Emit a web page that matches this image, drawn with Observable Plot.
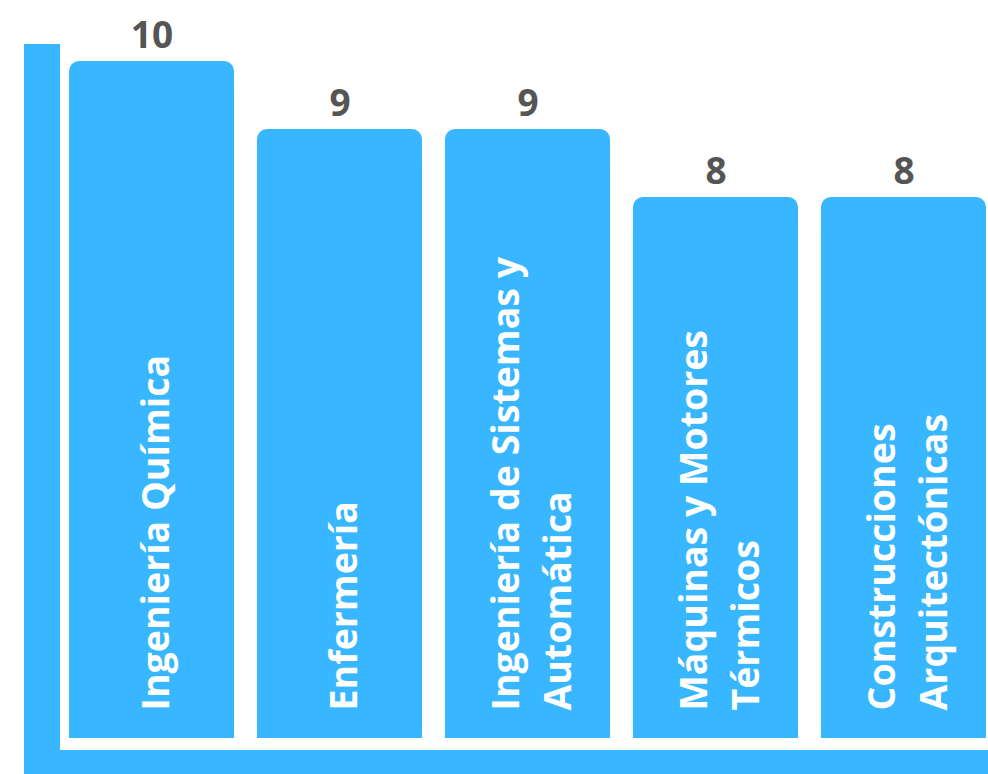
<!DOCTYPE html>
<html>
<head>
<meta charset="utf-8">
<script src="https://cdn.jsdelivr.net/npm/d3@7"></script>
<script src="https://cdn.jsdelivr.net/npm/@observablehq/plot@0.6"></script>
<style>
  html, body { margin: 0; padding: 0; background: #fff; }
  #chart svg { display: block; }
</style>
</head>
<body>
<div id="chart"></div>
<script>
const categories = [
  "Ingeniería Química",
  "Enfermería",
  "Ingeniería de Sistemas y Automática",
  "Máquinas y Motores Térmicos",
  "Construcciones Arquitectónicas"
];
const values = [10, 9, 9, 8, 8];
const labels = [
  "Ingeniería Química",
  "Enfermería",
  "Ingeniería de Sistemas y\nAutomática",
  "Máquinas y Motores\nTérmicos",
  "Construcciones\nArquitectónicas"
];

const data = categories.map((c, i) => ({category: c, value: values[i], label: labels[i]}));
const BLUE = "#38b6ff";

const frameMark = (index, scales, vals, dimensions) => {
  const {width, height, marginTop, marginLeft} = dimensions;
  const y0 = scales.y(0);
  const g = d3.create("svg:g");
  g.append("rect")
    .attr("x", marginLeft - 45).attr("y", marginTop)
    .attr("width", 36).attr("height", height - marginTop)
    .attr("fill", BLUE);
  g.append("rect")
    .attr("x", marginLeft - 45).attr("y", y0 + 9)
    .attr("width", width - (marginLeft - 45)).attr("height", height - y0 - 9)
    .attr("fill", BLUE);
  return g.node();
};

const chart = Plot.plot({
  width: 988,
  height: 774,
  marginTop: 44,
  marginBottom: 33,
  marginLeft: 69,
  marginRight: 2,
  x: {domain: categories, paddingInner: 0.122, paddingOuter: 0, round: false, axis: null},
  y: {domain: [0, 10.25], axis: null},
  style: {fontFamily: "'Open Sans', sans-serif", background: "white"},
  marks: [
    frameMark,
    Plot.barY(data, {x: "category", y: "value", fill: BLUE, rx: 10, insetBottom: 3}),
    Plot.barY(data, {x: "category", y1: 0, y2: d => d.value - 0.5, fill: BLUE, insetBottom: 3}),
    Plot.text(data, {
      x: "category", y: "value", text: d => String(d.value),
      dy: -14, lineAnchor: "bottom", fontSize: 37, fontWeight: 700, fill: "#555555"
    }),
    Plot.text(data, {
      x: "category", y: 0, text: "label", rotate: -90,
      textAnchor: "start", lineAnchor: "middle", lineHeight: 1.4,
      dy: -31, fontSize: 37.5, fontWeight: 700, fill: "white"
    })
  ]
});
document.getElementById("chart").appendChild(chart);
</script>
</body>
</html>
